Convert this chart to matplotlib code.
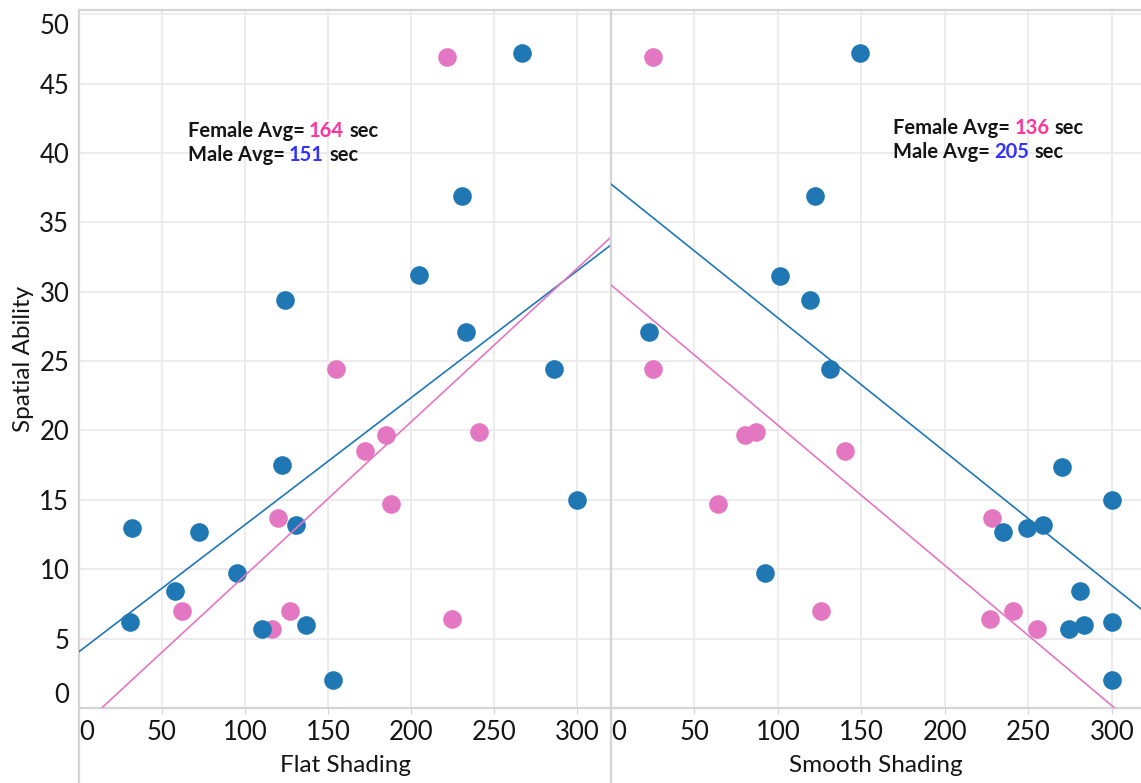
import numpy as np
import matplotlib
matplotlib.use('Agg')
import matplotlib.pyplot as plt
from matplotlib.lines import Line2D

plt.rcParams['font.family'] = ['Lato', 'DejaVu Sans']

# Flat shading panel (seconds vs spatial ability)
flat_female_x = [62, 116, 120, 127, 155, 172, 185, 188, 222, 225, 241]
flat_female_y = [7.0, 5.7, 13.7, 7.0, 24.4, 18.5, 19.7, 14.7, 46.9, 6.4, 19.9]
flat_male_x = [32, 31, 58, 72, 95, 110, 122, 124, 131, 137, 153, 205, 231, 233, 267, 286, 300]
flat_male_y = [13.0, 6.2, 8.4, 12.7, 9.7, 5.7, 17.5, 29.4, 13.2, 6.0, 2.0, 31.2, 36.9, 27.1, 47.2, 24.4, 15.0]

# Smooth shading panel
smooth_female_x = [25, 25, 64, 80, 87, 126, 140, 227, 228, 241, 255]
smooth_female_y = [46.9, 24.4, 14.7, 19.7, 19.9, 7.0, 18.5, 6.4, 13.7, 7.0, 5.7]
smooth_male_x = [23, 92, 101, 119, 122, 131, 149, 235, 249, 259, 270, 274, 281, 283, 300, 300, 300]
smooth_male_y = [27.1, 9.7, 31.1, 29.4, 36.9, 24.4, 47.2, 12.7, 13.0, 13.2, 17.4, 5.7, 8.4, 6.0, 15.0, 6.2, 2.0]

female_avg = ['164', '136']
male_avg = ['151', '205']
panel_titles = ['Flat Shading', 'Smooth Shading']
x_ticks = [0, 50, 100, 150, 200, 250, 300]
y_ticks = [0, 5, 10, 15, 20, 25, 30, 35, 40, 45, 50]

blue = '#1f77b4'
pink = '#e377c2'
grid_c = '#ebebeb'
axis_c = '#d4d4d4'
txt_c = '#151515'

W, H = 1141, 783
fig = plt.figure(figsize=(W / 100, H / 100), dpi=100)

bot = (H - 708) / H
hgt = 698 / H
ax1 = fig.add_axes([79 / W, bot, 532 / W, hgt])
ax2 = fig.add_axes([611 / W, bot, 530 / W, hgt], sharey=ax1)

panels = [
    (ax1, flat_female_x, flat_female_y, flat_male_x, flat_male_y, 320.5, (65.5, 41.6)),
    (ax2, smooth_female_x, smooth_female_y, smooth_male_x, smooth_male_y, 317.4, (169, 41.8)),
]

for i, (ax, fx, fy, mx, my, xmax, pos) in enumerate(panels):
    ax.set_xlim(0, xmax)
    ax.set_ylim(0, 50.3)
    ax.set_xticks(x_ticks)
    ax.set_yticks(y_ticks)
    ax.grid(True, color=grid_c, lw=1.3)
    ax.set_axisbelow(True)
    for s in ax.spines.values():
        s.set_color(axis_c)
        s.set_linewidth(1.6)
    ax.spines['right'].set_visible(False)

    ax.scatter(fx, fy, s=180, color=pink, zorder=3, linewidths=0)
    ax.scatter(mx, my, s=180, color=blue, zorder=3, linewidths=0)

    # least squares fits per gender
    xx = np.array([0, xmax])
    for x, y, c in [(mx, my, blue), (fx, fy, pink)]:
        b, a = np.polyfit(x, y, 1)
        ax.plot(xx, a + b * xx, color=c, lw=1.2, zorder=4)

    ax.tick_params(axis='x', length=4, color=axis_c, labelsize=18.5, pad=5, labelcolor=txt_c)
    ax.tick_params(axis='y', length=0, labelsize=18.5, pad=7, labelcolor=txt_c)
    ax.set_xticklabels([str(t) for t in x_ticks])
    ax.get_xticklabels()[0].set_horizontalalignment('left')
    ax.set_xlabel(panel_titles[i], fontsize=17.5, color=txt_c, labelpad=7)

    # average annotation
    fs = 14.5
    t1 = ax.text(pos[0], pos[1], 'Female Avg=', fontsize=fs, weight='bold', color=txt_c, va='center', zorder=5)
    t2 = ax.annotate(female_avg[i], xy=(1, 0), xycoords=t1, xytext=(3, 0), textcoords='offset points',
                     fontsize=fs, weight='bold', color='#ff3399', va='bottom')
    ax.annotate('sec', xy=(1, 0), xycoords=t2, xytext=(4, 0), textcoords='offset points',
                fontsize=fs, weight='bold', color=txt_c, va='bottom')
    t4 = ax.text(pos[0], pos[1] - 1.75, 'Male Avg=', fontsize=fs, weight='bold', color=txt_c, va='center', zorder=5)
    t5 = ax.annotate(male_avg[i], xy=(1, 0), xycoords=t4, xytext=(3, 0), textcoords='offset points',
                     fontsize=fs, weight='bold', color='#3333ff', va='bottom')
    ax.annotate('sec', xy=(1, 0), xycoords=t5, xytext=(4, 0), textcoords='offset points',
                fontsize=fs, weight='bold', color=txt_c, va='bottom')

plt.setp(ax2.get_yticklabels(), visible=False)
ylabs = ax1.get_yticklabels()
ylabs[0].set_verticalalignment('bottom')
ylabs[-1].set_verticalalignment('top')
ax1.set_ylabel('Spatial Ability', fontsize=17.5, color=txt_c, labelpad=4)

# panel separators running down to the bottom edge
for xp in [79, 611]:
    fig.add_artist(Line2D([xp / W, xp / W], [0, bot], transform=fig.transFigure, color=axis_c, lw=1.6))

fig.savefig('out.png', dpi=100)
